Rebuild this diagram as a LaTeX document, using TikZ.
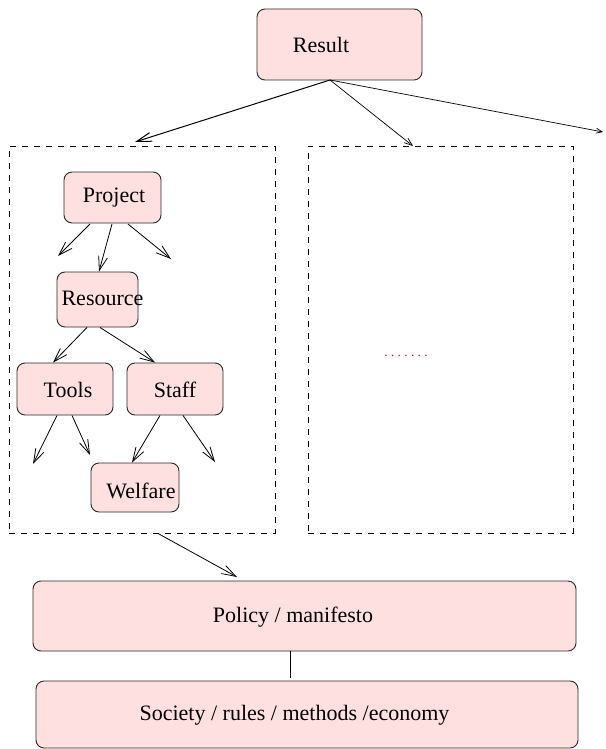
\documentclass[tikz,border=0pt]{standalone}
\usepackage{fontspec}
\setmainfont{Liberation Serif}
\usetikzlibrary{arrows.meta}
\definecolor{boxfill}{RGB}{255,224,224}
\definecolor{boxline}{RGB}{40,40,40}
\definecolor{dotred}{RGB}{210,0,0}
\begin{document}
\begin{tikzpicture}[x=1pt,y=-1pt,
  box/.style={draw=boxline,line width=0.9pt,fill=boxfill,rounded corners=8pt,inner sep=0pt},
  txt/.style={inner sep=0pt,font=\fontsize{22}{26}\selectfont},
  grp/.style={draw=black,line width=0.9pt,dash pattern=on 6pt off 6pt,inner sep=0pt},
  arr/.style={line width=0.8pt,-{Straight Barb[length=14pt,width=9pt]}},
  sarr/.style={line width=0.7pt,-{Straight Barb[length=8pt,width=6pt]}}]
\useasboundingbox (0,0) rectangle (605,749);

% group frames
\node[grp,minimum width=266pt,minimum height=387pt] (leftgrp) at (142,339.5) {};
\node[grp,minimum width=265pt,minimum height=387pt] (rightgrp) at (440.5,339.5) {};

% boxes
\node[box,minimum width=165pt,minimum height=71pt] (result) at (339.5,44.5) {};
\node[txt] (resultt) at (321,45) {Result};
\node[box,minimum width=97pt,minimum height=51pt] (project) at (112.5,197.5) {};
\node[txt] (projectt) at (114,198) {Project};
\node[box,minimum width=81pt,minimum height=55pt] (resource) at (97.5,299.5) {};
\node[txt] (resourcet) at (102.5,298) {Resource};
\node[box,minimum width=96pt,minimum height=52pt] (tools) at (65,389) {};
\node[txt] (toolst) at (68,390) {Tools};
\node[box,minimum width=96pt,minimum height=52pt] (staff) at (175,389) {};
\node[txt] (stafft) at (175,390) {Staff};
\node[box,minimum width=88pt,minimum height=49pt] (welfare) at (135,487.5) {};
\node[txt] (welfaret) at (141,491) {Welfare};
\node[box,minimum width=543pt,minimum height=70pt] (policy) at (304.5,616) {};
\node[txt] (policyt) at (293,617) {Policy / manifesto};
\node[box,minimum width=542pt,minimum height=67pt] (society) at (307,714.5) {};
\node[txt] (societyt) at (294.5,715) {Society / rules / methods /economy};

\node[inner sep=0pt,text=dotred,font=\fontsize{13}{15}\selectfont] (dots) at (406,355.5)
  {.\kern3.4pt.\kern3.4pt.\kern3.4pt.\kern3.4pt.\kern3.4pt.\kern3.4pt.};

% free ends / attachment points
\coordinate (r0) at (330,80);
\coordinate (e1) at (135,142);
\coordinate (e2) at (413,146);
\coordinate (e3) at (603,132);

\draw[line width=1pt,-{Straight Barb[length=15pt,width=9pt]}] (r0) -- (e1);
\draw[sarr] (r0) -- (e2);
\draw[line width=0.7pt,-{Straight Barb[length=6pt,width=5pt]}] (r0) -- (e3);

\coordinate (p1) at (58,256);
\coordinate (p3) at (171,259);
\draw[arr] (90,224) -- (p1);
\draw[arr] (112,224) -- (resource.north -| 99,0);
\draw[arr] (128,224) -- (p3);

\draw[arr] (resource.south -| 87,0) -- (tools.north -| 53,0);
\draw[arr] (resource.south -| 100,0) -- (staff.north -| 155,0);

\coordinate (t1) at (33,464);
\coordinate (t2) at (90,455);
\coordinate (s2) at (215,462);
\draw[arr] (tools.south -| 57,0) -- (t1);
\draw[arr] (tools.south -| 72,0) -- (t2);
\draw[arr] (staff.south -| 160,0) -- (welfare.north -| 132,0);
\draw[arr] (staff.south -| 183,0) -- (s2);

\coordinate (b1) at (237,577);
\draw[arr] (leftgrp.south -| 158,0) -- (b1);

\coordinate (l2) at (290,678);
\draw[line width=0.8pt] (policy.south -| 290,0) -- (l2);
\end{tikzpicture}
\end{document}
